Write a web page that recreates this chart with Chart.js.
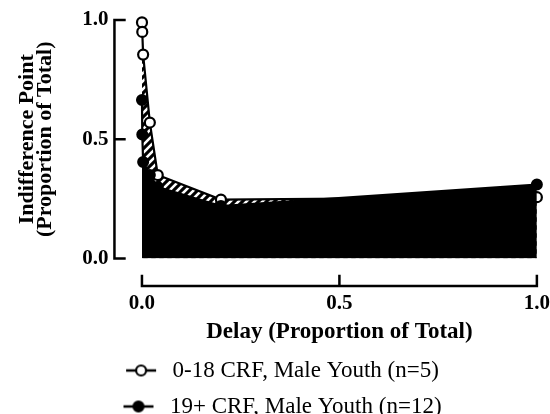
<!DOCTYPE html>
<html>
<head>
<meta charset="utf-8">
<script src="https://cdn.jsdelivr.net/npm/chart.js@4.4.1/dist/chart.umd.min.js"></script>
<style>
    html, body { margin: 0; padding: 0; background: #fff; width: 550px; height: 414px; overflow: hidden; }
    #wrap { position: relative; width: 550px; height: 428px; }
</style>
</head>
<body>
<div id="wrap"><canvas id="myChart"></canvas></div>
<script>
    "use strict";

    // delay as proportion of the total delay range
    const delay = [0.0001, 0.0008, 0.003, 0.02, 0.04, 0.2, 1.0];
    const youthLow = [0.99, 0.95, 0.855, 0.57, 0.35, 0.247, 0.257];
    const youthHigh = [0.665, 0.52, 0.405, 0.35, 0.30, 0.22, 0.31];
    const seriesNames = ['0-18 CRF, Male Youth (n=5)', '19+ CRF, Male Youth (n=12)'];
    const xTicks = [0, 0.5, 1];
    const yTicks = [0, 0.5, 1];

    const serif = "'Liberation Serif', 'Times New Roman', serif";
    const axisGap = 27.5;

    function points(values) {
        return delay.map(function (d, i) { return {x: d, y: values[i]}; });
    }

    function makeHatch() {
        const c = document.createElement('canvas');
        c.width = 8;
        c.height = 8;
        const g = c.getContext('2d');
        g.fillStyle = '#000';
        g.fillRect(0, 0, 8, 8);
        g.strokeStyle = '#fff';
        g.lineWidth = 2.6;
        g.beginPath();
        g.moveTo(-2, 10); g.lineTo(10, -2);
        g.moveTo(-2, 2); g.lineTo(2, -2);
        g.moveTo(6, 10); g.lineTo(10, 6);
        g.stroke();
        return g.createPattern(c, 'repeat');
    }

    // line + marker, drawn in the right part of a wider box so the text sits where it should
    function legendSymbol(filled) {
        const c = document.createElement('canvas');
        c.width = 50;
        c.height = 16;
        const g = c.getContext('2d');
        g.strokeStyle = '#000';
        g.lineWidth = 2.5;
        g.beginPath();
        g.moveTo(15, 8);
        g.lineTo(45, 8);
        g.stroke();
        g.beginPath();
        g.arc(30, 8, 5, 0, Math.PI * 2);
        g.fillStyle = filled ? '#000' : '#fff';
        g.fill();
        g.lineWidth = 2.2;
        g.stroke();
        return c;
    }

    const hatch = makeHatch();
    const symbols = [legendSymbol(false), legendSymbol(true)];

    // prism style axes: offset away from the data, ticks pointing inwards
    const offsetAxes = {
        id: 'offsetAxes',
        afterDraw(chart) {
            const {ctx, chartArea} = chart;
            const x = chart.scales.x;
            const y = chart.scales.y;
            const yLine = chartArea.left - axisGap;
            const xLine = chartArea.bottom + axisGap;

            ctx.save();
            ctx.strokeStyle = '#000';
            ctx.lineWidth = 2.5;
            ctx.lineCap = 'square';
            ctx.beginPath();
            ctx.moveTo(yLine, y.getPixelForValue(yTicks[yTicks.length - 1]));
            ctx.lineTo(yLine, y.getPixelForValue(yTicks[0]));
            yTicks.forEach(function (v) {
                const py = y.getPixelForValue(v);
                ctx.moveTo(yLine, py);
                ctx.lineTo(yLine + 10, py);
            });
            ctx.moveTo(x.getPixelForValue(xTicks[0]), xLine);
            ctx.lineTo(x.getPixelForValue(xTicks[xTicks.length - 1]), xLine);
            xTicks.forEach(function (v) {
                const px = x.getPixelForValue(v);
                ctx.moveTo(px, xLine);
                ctx.lineTo(px, xLine - 10);
            });
            ctx.stroke();
            ctx.restore();
        }
    };

    const ctx = document.getElementById('myChart').getContext('2d');

    const myChart = new Chart(ctx, {
        type: 'line',
        data: {
            datasets: [{
                label: seriesNames[0],
                data: points(youthLow),
                order: 1,
                borderColor: '#000',
                borderWidth: 2.2,
                backgroundColor: hatch,
                fill: 'origin',
                pointRadius: 5,
                pointBorderWidth: 2.2,
                pointBackgroundColor: '#fff',
                pointBorderColor: '#000',
                tension: 0,
                clip: false
            }, {
                label: seriesNames[1],
                data: points(youthHigh),
                order: 0,
                borderColor: '#000',
                borderWidth: 2.2,
                backgroundColor: '#000',
                fill: 'origin',
                pointRadius: 5,
                pointBorderWidth: 2,
                pointBackgroundColor: '#000',
                pointBorderColor: '#000',
                tension: 0,
                clip: false
            }]
        },
        options: {
            responsive: true,
            maintainAspectRatio: false,
            animation: false,
            devicePixelRatio: 1,
            layout: {
                padding: {top: 20, right: 0, bottom: 0, left: 0}
            },
            scales: {
                x: {
                    type: 'linear',
                    min: 0,
                    max: 1,
                    afterBuildTicks: function (scale) {
                        scale.ticks = xTicks.map(function (v) { return {value: v}; });
                    },
                    grid: {display: false, drawTicks: true, tickLength: 36},
                    border: {display: false},
                    ticks: {
                        color: '#000',
                        padding: 0,
                        maxRotation: 0,
                        font: {family: serif, size: 21, weight: 'bold', lineHeight: 0.857},
                        callback: function (v) { return Number(v).toFixed(1); }
                    },
                    title: {
                        display: true,
                        text: 'Delay (Proportion of Total)',
                        color: '#000',
                        font: {family: serif, size: 23, weight: 'bold', lineHeight: 0.7},
                        padding: {top: 11.9, bottom: 5.5}
                    }
                },
                y: {
                    min: 0,
                    max: 1,
                    afterBuildTicks: function (scale) {
                        scale.ticks = yTicks.map(function (v) { return {value: v}; });
                    },
                    grid: {display: false, drawTicks: true, tickLength: 28},
                    border: {display: false},
                    ticks: {
                        color: '#000',
                        padding: 5.5,
                        font: {family: serif, size: 21, weight: 'bold'},
                        callback: function (v) { return Number(v).toFixed(1); }
                    },
                    title: {
                        display: true,
                        text: ['Indifference Point', '(Proportion of Total)'],
                        color: '#000',
                        font: {family: serif, size: 22, weight: 'bold', lineHeight: 0.8},
                        padding: {top: 19, bottom: 22.5}
                    }
                }
            },
            plugins: {
                tooltip: {enabled: false},
                legend: {
                    position: 'bottom',
                    labels: {
                        usePointStyle: true,
                        pointStyleWidth: 50,
                        padding: 13,
                        color: '#000',
                        font: {family: serif, size: 23},
                        sort: function (a, b) { return a.datasetIndex - b.datasetIndex; },
                        generateLabels: function (chart) {
                            const items = Chart.defaults.plugins.legend.labels.generateLabels(chart);
                            return items.map(function (item) {
                                item.pointStyle = symbols[item.datasetIndex];
                                return item;
                            });
                        }
                    }
                }
            }
        },
        plugins: [offsetAxes]
    });
</script>
</body>
</html>
